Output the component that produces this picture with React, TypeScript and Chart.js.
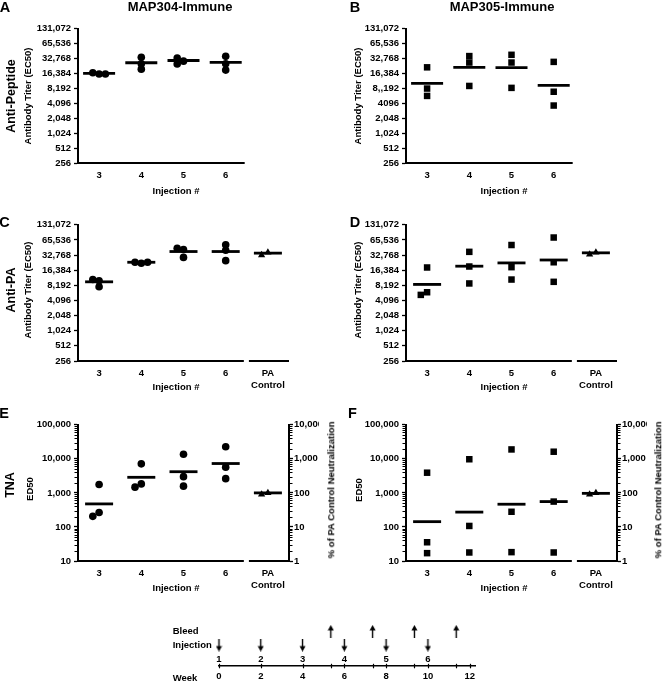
import React, { useEffect, useRef } from 'react';
import { Chart, registerables } from 'chart.js';

Chart.register(...registerables);

const FONT = '"Liberation Sans", Arial, Helvetica, sans-serif';
Chart.defaults.font.family = FONT;
Chart.defaults.color = '#000';

/* ===== categories & tick labels ===== */
const injections = [3, 4, 5, 6];
const injectionLabels = ['3', '4', '5', '6'];
const paControlX = 7;
const paControlLabel = ['PA', 'Control'];

const titerTicks = [256, 512, 1024, 2048, 4096, 8192, 16384, 32768, 65536, 131072];
const titerTickLabels = ['256', '512', '1,024', '2,048', '4,096', '8,192', '16,384', '32,768', '65,536', '131,072'];
const titerTickLabelsB = ['256', '512', '1,024', '2,048', '4096', '8,,192', '16,384', '32,768', '65,536', '131,072'];
const ed50Ticks = [10, 100, 1000, 10000, 100000];
const ed50TickLabels = ['10', '100', '1,000', '10,000', '100,000'];
const pctTicks = [1, 10, 100, 1000, 10000];
const pctTickLabels = ['1', '10', '100', '1,000', '10,000'];

/* ===== A: MAP304-Immune, anti-peptide titer ===== */
const map304Peptide = [
  [16060, 17050, 16060],
  [34840, 20090, 25870],
  [29140, 25470, 33820],
  [36430, 25870, 19210],
];
const map304PeptideMean = [16550, 27040, 30030, 27450];

/* ===== B: MAP305-Immune, anti-peptide titer ===== */
const map305Peptide = [
  [21860, 8150, 5790],
  [36870, 27330, 9200],
  [39130, 27330, 8410],
  [28170, 7030, 3700],
];
const map305PeptideMean = [10360, 21860, 21540, 9480];

/* ===== C: MAP304-Immune, anti-PA titer ===== */
const map304PA = [
  [10060, 7690, 10680],
  [22540, 23560, 23560],
  [42150, 29460, 44740],
  [52740, 40900, 25370],
];
const map304PAMean = [9620, 23560, 38530, 38530];
const paControlPA304 = [36900, 32770];
const paControlPA304Mean = 35800;

/* ===== D: MAP305-Immune, anti-PA titer ===== */
const map305PA = [
  [18550, 5970, 5290],
  [37980, 19400, 8930],
  [51940, 18820, 10680],
  [73200, 23560, 9620],
];
const map305PAMean = [8540, 19690, 22870, 26140];
const paControlPA305 = [36870, 33700];
const paControlPA305Mean = 36300;

/* ===== E: MAP304-Immune, TNA ED50 ===== */
const map304TNA = [
  [1760, 267, 205],
  [7130, 1840, 1475],
  [13580, 3000, 1577],
  [22600, 5710, 2625],
];
const map304TNAMean = [475, 2870, 4190, 7290];
const paControlTNA304 = [1000, 905];
const paControlTNA304Mean = 1000;

/* ===== F: MAP305-Immune, TNA ED50 ===== */
const map305TNA = [
  [3920, 35.5, 17],
  [9730, 107, 17.8],
  [18900, 279, 18.2],
  [16200, 556, 17.8],
];
const map305TNAMean = [143, 273, 465, 556];
const paControlTNA305 = [1000, 905];
const paControlTNA305Mean = 970;

/* ===== schedule timeline ===== */
const weekTicks = [0, 2, 4, 6, 8, 10, 12];
const injectionWeeks = [0, 2, 4, 6, 8, 10];
const injectionNumbers = ['1', '2', '3', '4', '5', '6'];
const bleedWeeks = [5.35, 7.35, 9.35, 11.35];
const timelineRowLabels = ['Bleed', 'Injection'];

/* ===== layout constants ===== */
const X_MIN = 2.5;
const PX_PER_X = 42.2;
const COLS = [
  { canvasLeft: 0, canvasWidth: 330, plotLeft: 78 },
  { canvasLeft: 330, canvasWidth: 334, plotLeft: 406 },
];
const ROW_TOPS = [24, 222, 422];
const PLOT_H = 139;
const PAD_TOP = 14;
const CANVAS_H = 193;
const RIGHT_AXIS_W = 30;
const DODGE_STEP = 6.3;
const DODGE_MIN = 5.5;
const DODGE_ORDER = [0, -1, 1, -2, 2];

const tickFont = { size: 9.5, weight: 'bold' as const, lineHeight: 1.3 };

function dodge(values: number[], pxPerDecade: number, pxPerX: number): number[] {
  const placed: { dx: number; y: number }[] = [];
  return values.map((v) => {
    const y = Math.log10(v) * pxPerDecade;
    let chosen = 0;
    for (const k of DODGE_ORDER) {
      const dx = k * DODGE_STEP;
      if (placed.every((p) => Math.hypot(p.dx - dx, p.y - y) >= DODGE_MIN)) {
        chosen = dx;
        break;
      }
    }
    placed.push({ dx: chosen, y });
    return chosen / pxPerX;
  });
}

type Decor = {
  segments?: [number, number][];
  minor?: { axis: string; side: 'left' | 'right'; values: number[]; length: number }[];
  crossTicks?: { values: number[]; up: number; down: number };
  texts?: { x: number; y: number; text: string }[];
};

function makeDecor(cfg: Decor) {
  return {
    id: 'decor',
    afterDatasetsDraw(chart: any) {
      const { ctx, chartArea: a, scales } = chart;
      ctx.save();
      ctx.strokeStyle = '#000';
      ctx.fillStyle = '#000';
      if (cfg.segments) {
        ctx.lineWidth = 2;
        for (const [s, e] of cfg.segments) {
          ctx.beginPath();
          ctx.moveTo(scales.x.getPixelForValue(s), a.bottom);
          ctx.lineTo(scales.x.getPixelForValue(e), a.bottom);
          ctx.stroke();
        }
      }
      if (cfg.minor) {
        ctx.lineWidth = 1;
        for (const m of cfg.minor) {
          const sc = scales[m.axis];
          const x0 = m.side === 'left' ? a.left - 1 : a.right + 1;
          const x1 = m.side === 'left' ? x0 - m.length : x0 + m.length;
          for (const v of m.values) {
            const y = Math.round(sc.getPixelForValue(v)) + 0.5;
            ctx.beginPath();
            ctx.moveTo(x0, y);
            ctx.lineTo(x1, y);
            ctx.stroke();
          }
        }
      }
      if (cfg.crossTicks) {
        ctx.lineWidth = 1.2;
        for (const v of cfg.crossTicks.values) {
          const x = Math.round(scales.x.getPixelForValue(v)) + 0.5;
          ctx.beginPath();
          ctx.moveTo(x, a.bottom - cfg.crossTicks.up);
          ctx.lineTo(x, a.bottom + cfg.crossTicks.down);
          ctx.stroke();
        }
      }
      if (cfg.texts) {
        ctx.font = `bold 9.5px ${FONT}`;
        ctx.textAlign = 'center';
        ctx.textBaseline = 'middle';
        for (const t of cfg.texts) {
          ctx.fillText(t.text, scales.x.getPixelForValue(t.x), scales.y.getPixelForValue(t.y));
        }
      }
      ctx.restore();
    },
  };
}

function logAxis(ticks: number[], labels: string[], min: number, max: number, position: 'left' | 'right', width: number) {
  return {
    type: 'logarithmic' as const,
    position,
    min,
    max,
    bounds: 'data' as const,
    afterBuildTicks: (s: any) => {
      s.ticks = ticks.map((v) => ({ value: v }));
    },
    afterFit: (s: any) => {
      s.width = width;
    },
    ticks: {
      autoSkip: false,
      padding: position === 'left' ? 3 : 1,
      color: '#000',
      font: tickFont,
      callback: (_v: any, i: number) => labels[i],
    },
    grid: { display: true, drawOnChartArea: false, drawTicks: true, tickLength: 4, tickWidth: 1.3, tickColor: '#000' },
    border: { display: true, width: 2, color: '#000' },
  };
}

function minorValues(fromExp: number, toExp: number): number[] {
  const out: number[] = [];
  for (let e = fromExp; e <= toExp; e++) for (let m = 2; m <= 9; m++) out.push(m * Math.pow(10, e));
  return out;
}

type PanelSpec = {
  col: number;
  row: number;
  xMax: number;
  kind: 'titer' | 'tna';
  yLabels: string[];
  groups: number[][];
  means: number[];
  pa?: number[];
  paMean?: number;
  marker: 'circle' | 'rect';
  medianHalf: number;
};

const panels: PanelSpec[] = [
  { col: 0, row: 0, xMax: 6.45, kind: 'titer', yLabels: titerTickLabels, groups: map304Peptide, means: map304PeptideMean, marker: 'circle', medianHalf: 16 },
  { col: 1, row: 0, xMax: 6.45, kind: 'titer', yLabels: titerTickLabelsB, groups: map305Peptide, means: map305PeptideMean, marker: 'rect', medianHalf: 16 },
  { col: 0, row: 1, xMax: 7.5, kind: 'titer', yLabels: titerTickLabels, groups: map304PA, means: map304PAMean, pa: paControlPA304, paMean: paControlPA304Mean, marker: 'circle', medianHalf: 14 },
  { col: 1, row: 1, xMax: 7.5, kind: 'titer', yLabels: titerTickLabels, groups: map305PA, means: map305PAMean, pa: paControlPA305, paMean: paControlPA305Mean, marker: 'rect', medianHalf: 14 },
  { col: 0, row: 2, xMax: 7.5, kind: 'tna', yLabels: ed50TickLabels, groups: map304TNA, means: map304TNAMean, pa: paControlTNA304, paMean: paControlTNA304Mean, marker: 'circle', medianHalf: 14 },
  { col: 1, row: 2, xMax: 7.5, kind: 'tna', yLabels: ed50TickLabels, groups: map305TNA, means: map305TNAMean, pa: paControlTNA305, paMean: paControlTNA305Mean, marker: 'rect', medianHalf: 14 },
];

function Panel({ spec }: { spec: PanelSpec }) {
  const ref = useRef<HTMLCanvasElement>(null);
  const col = COLS[spec.col];
  const canvasTop = ROW_TOPS[spec.row] - PAD_TOP;

  useEffect(() => {
    const s = spec;
    const isTna = s.kind === 'tna';
    const yMin = isTna ? 10 : 256;
    const yMax = isTna ? 100000 : 131072;
    const plotWidth = (s.xMax - X_MIN) * PX_PER_X;
    const yAxisW = col.plotLeft - col.canvasLeft;
    const padRight = col.canvasWidth - yAxisW - plotWidth - (isTna ? RIGHT_AXIS_W : 0);
    const pxPerDecade = PLOT_H / Math.log10(yMax / yMin);

    const points: { x: number; y: number }[] = [];
    s.groups.forEach((vals, i) => {
      const offs = dodge(vals, pxPerDecade, PX_PER_X);
      vals.forEach((v, j) => points.push({ x: injections[i] + offs[j], y: v }));
    });
    const medianPts = s.means.map((m, i) => ({ x: injections[i], y: m }));
    if (s.paMean != null) medianPts.push({ x: paControlX, y: s.paMean });
    const paPts: { x: number; y: number }[] = [];
    if (s.pa) {
      const offs = dodge(s.pa, pxPerDecade, PX_PER_X);
      s.pa.forEach((v, j) => paPts.push({ x: paControlX + offs[j], y: v }));
    }
    const xTicks = s.pa ? [...injections, paControlX] : injections;

    const decor: Decor = {
      segments: s.pa ? [[2.5, 6.43], [6.55, 7.5]] : [[2.5, s.xMax]],
    };
    if (isTna) {
      decor.minor = [
        { axis: 'y', side: 'left', values: minorValues(1, 4), length: 2.5 },
        { axis: 'y2', side: 'right', values: minorValues(0, 3), length: 2.5 },
      ];
    }

    const scales: any = {
      x: {
        type: 'linear',
        min: X_MIN,
        max: s.xMax,
        bounds: 'data',
        afterBuildTicks: (sc: any) => {
          sc.ticks = xTicks.map((v) => ({ value: v }));
        },
        afterFit: (sc: any) => {
          sc.height = CANVAS_H - PAD_TOP - PLOT_H;
        },
        ticks: {
          autoSkip: false,
          maxRotation: 0,
          minRotation: 0,
          padding: 6,
          color: '#000',
          font: tickFont,
          callback: (v: any) => (v === paControlX ? paControlLabel : injectionLabels[injections.indexOf(v)]),
        },
        grid: { display: false, drawTicks: false },
        border: { display: false },
      },
      y: logAxis(isTna ? ed50Ticks : titerTicks, s.yLabels, yMin, yMax, 'left', yAxisW),
    };
    if (isTna) scales.y2 = logAxis(pctTicks, pctTickLabels, 1, 10000, 'right', RIGHT_AXIS_W);

    const common = { showLine: false, clip: false as const, pointHoverRadius: 0 };
    const chart = new Chart(ref.current!, {
      type: 'scatter',
      data: {
        datasets: [
          {
            ...common,
            data: medianPts,
            pointStyle: 'line',
            pointRadius: s.medianHalf,
            pointBorderWidth: 2.8,
            pointBorderColor: '#000',
            borderColor: '#000',
            backgroundColor: '#000',
          },
          {
            ...common,
            data: points,
            pointStyle: s.marker,
            pointRadius: s.marker === 'circle' ? 3.8 : 4.6,
            pointBorderWidth: 0,
            pointBackgroundColor: '#000',
            backgroundColor: '#000',
            borderColor: '#000',
          },
          {
            ...common,
            data: paPts,
            pointStyle: 'triangle',
            pointRadius: 4.2,
            pointBorderWidth: 0,
            pointBackgroundColor: '#000',
            backgroundColor: '#000',
            borderColor: '#000',
          },
        ] as any,
      },
      options: {
        responsive: false,
        animation: false,
        events: [],
        layout: { padding: { top: PAD_TOP, left: 0, right: padRight, bottom: 0 } },
        plugins: { legend: { display: false }, tooltip: { enabled: false } },
        scales,
      },
      plugins: [makeDecor(decor) as any],
    });
    return () => chart.destroy();
  }, []);

  return (
    <canvas
      ref={ref}
      width={col.canvasWidth}
      height={CANVAS_H}
      style={{ position: 'absolute', left: col.canvasLeft, top: canvasTop, width: col.canvasWidth, height: CANVAS_H }}
    />
  );
}

const TL = { left: 150, top: 612, width: 350, height: 69, padLeft: 22.7, plotLeft: 219, plotTop: 624.5, plotBottom: 665.8, xMax: 12.25, padRight: 25 };
const ROW_BLEED = 2.5;
const ROW_INJECTION = 1.5;
const ROW_NUMBER = 0.5;

function Timeline() {
  const ref = useRef<HTMLCanvasElement>(null);
  useEffect(() => {
    const arrow = document.createElement('canvas');
    arrow.width = 7;
    arrow.height = 13;
    const g = arrow.getContext('2d')!;
    g.fillStyle = '#000';
    g.strokeStyle = '#000';
    g.beginPath();
    g.moveTo(3.5, 0);
    g.lineTo(6.5, 5.5);
    g.lineTo(0.5, 5.5);
    g.closePath();
    g.fill();
    g.lineWidth = 1.4;
    g.beginPath();
    g.moveTo(3.5, 5);
    g.lineTo(3.5, 13);
    g.stroke();

    const padTop = TL.plotTop - TL.top;
    const plotH = TL.plotBottom - TL.plotTop;
    const rowTicks = [ROW_BLEED, ROW_INJECTION];
    const decor: Decor = {
      crossTicks: { values: [...weekTicks, ...bleedWeeks], up: 2, down: 2.5 },
      texts: injectionWeeks.map((w, i) => ({ x: w, y: ROW_NUMBER, text: injectionNumbers[i] })),
    };
    const chart = new Chart(ref.current!, {
      type: 'scatter',
      data: {
        datasets: [
          {
            data: bleedWeeks.map((w) => ({ x: w, y: ROW_BLEED })),
            pointStyle: arrow,
            pointRadius: 5,
            rotation: 0,
            clip: false,
            showLine: false,
          },
          {
            data: injectionWeeks.map((w) => ({ x: w, y: ROW_INJECTION })),
            pointStyle: arrow,
            pointRadius: 5,
            rotation: 180,
            clip: false,
            showLine: false,
          },
        ] as any,
      },
      options: {
        responsive: false,
        animation: false,
        events: [],
        layout: { padding: { top: padTop, left: TL.padLeft, right: TL.padRight, bottom: 0 } },
        plugins: { legend: { display: false }, tooltip: { enabled: false } },
        scales: {
          x: {
            type: 'linear',
            min: 0,
            max: TL.xMax,
            bounds: 'data',
            afterBuildTicks: (sc: any) => {
              sc.ticks = weekTicks.map((v) => ({ value: v }));
            },
            afterFit: (sc: any) => {
              sc.height = TL.height - padTop - plotH;
            },
            ticks: { autoSkip: false, maxRotation: 0, padding: 5, color: '#000', font: { size: 9.5, weight: 'bold', lineHeight: 1.2 }, callback: (v: any) => String(v) },
            grid: { display: false, drawTicks: false },
            border: { display: true, width: 1.5, color: '#000' },
          },
          y: {
            type: 'linear',
            min: 0,
            max: 3,
            bounds: 'data',
            afterBuildTicks: (sc: any) => {
              sc.ticks = rowTicks.map((v) => ({ value: v }));
            },
            afterFit: (sc: any) => {
              sc.width = TL.plotLeft - TL.left - TL.padLeft;
            },
            ticks: { crossAlign: 'far', color: '#000', font: { size: 9.5, weight: 'bold' }, callback: (_v: any, i: number) => timelineRowLabels[i] },
            grid: { display: false, drawTicks: false },
            border: { display: false },
          },
        } as any,
      },
      plugins: [makeDecor(decor) as any],
    });
    return () => chart.destroy();
  }, []);
  return (
    <canvas
      ref={ref}
      width={TL.width}
      height={TL.height}
      style={{ position: 'absolute', left: TL.left, top: TL.top, width: TL.width, height: TL.height }}
    />
  );
}

type TextSpec = { t: string; x: number; y: number; s: number; r?: boolean; left?: boolean };
const textLabels: TextSpec[] = [
  { t: 'A', x: 5, y: 7, s: 14.5 },
  { t: 'MAP304-Immune', x: 180, y: 6, s: 13 },
  { t: 'B', x: 355, y: 7, s: 14.5 },
  { t: 'MAP305-Immune', x: 502, y: 6, s: 13 },
  { t: 'Anti-Peptide', x: 11, y: 96, s: 12.5, r: true },
  { t: 'Antibody Titer (EC50)', x: 27.5, y: 96, s: 9.5, r: true },
  { t: 'Antibody Titer (EC50)', x: 358, y: 96, s: 9.5, r: true },
  { t: 'Injection #', x: 176, y: 191, s: 9.5 },
  { t: 'Injection #', x: 504, y: 191, s: 9.5 },
  { t: 'C', x: 4.5, y: 221.5, s: 14.5 },
  { t: 'D', x: 355, y: 221.5, s: 14.5 },
  { t: 'Anti-PA', x: 11, y: 290, s: 12.5, r: true },
  { t: 'Antibody Titer (EC50)', x: 27.5, y: 290, s: 9.5, r: true },
  { t: 'Antibody Titer (EC50)', x: 358, y: 290, s: 9.5, r: true },
  { t: 'Injection #', x: 176, y: 387, s: 9.5 },
  { t: 'Injection #', x: 504, y: 387, s: 9.5 },
  { t: 'E', x: 4, y: 413, s: 14.5 },
  { t: 'F', x: 352.5, y: 413, s: 14.5 },
  { t: 'TNA', x: 10, y: 485, s: 12.5, r: true },
  { t: 'ED50', x: 30, y: 489, s: 9.5, r: true },
  { t: 'ED50', x: 359, y: 490, s: 9.5, r: true },
  { t: '% of PA Control Neutralization', x: 331, y: 490, s: 9.5, r: true },
  { t: '% of PA Control Neutralization', x: 658, y: 490, s: 9.5, r: true },
  { t: 'Injection #', x: 176, y: 587.5, s: 9.5 },
  { t: 'Injection #', x: 504, y: 587.5, s: 9.5 },
  { t: 'Week', x: 172.7, y: 677.7, s: 9.5, left: true },
];

function Label({ spec }: { spec: TextSpec }) {
  const tr = spec.left ? 'translate(0,-50%)' : `translate(-50%,-50%)${spec.r ? ' rotate(-90deg)' : ''}`;
  return (
    <div
      style={{
        position: 'absolute',
        left: spec.x,
        top: spec.y,
        transform: tr,
        font: `bold ${spec.s}px ${FONT}`,
        lineHeight: 1,
        whiteSpace: 'nowrap',
        color: '#000',
      }}
    >
      {spec.t}
    </div>
  );
}

export default function App() {
  return (
    <div style={{ position: 'absolute', left: 0, top: 0, width: 664, height: 681, background: '#fff', overflow: 'hidden' }}>
      {panels.map((p, i) => (
        <Panel key={i} spec={p} />
      ))}
      <Timeline />
      {textLabels.map((l, i) => (
        <Label key={i} spec={l} />
      ))}
    </div>
  );
}
